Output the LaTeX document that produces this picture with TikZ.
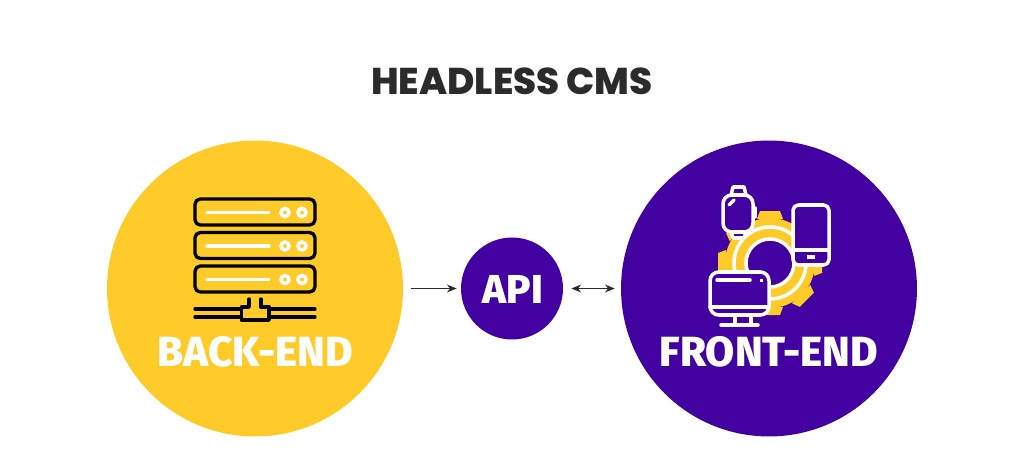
\documentclass[tikz,border=0pt]{standalone}
\usepackage{fontspec}
\setmainfont[BoldFont={Fira Sans ExtraBold}]{Fira Sans}
\newfontfamily\titlefont[BoldFont={Poppins ExtraBold}]{Poppins}
\usetikzlibrary{arrows.meta}
\definecolor{sunyellow}{HTML}{FFCB29}
\definecolor{deeppurple}{HTML}{41009F}
\definecolor{inkgray}{HTML}{2B2B2B}
\tikzset{
    bigdisc/.style={circle,minimum size=5.92cm,inner sep=0pt},
    apidisc/.style={circle,minimum size=2.04cm,inner sep=0pt,fill=deeppurple},
    disclabel/.style={text=white,font=\bfseries\fontsize{24}{24}\selectfont},
    linkarrow/.style={draw=inkgray,line width=0.55pt,>={Stealth[length=5.5pt,width=4.5pt]}},
    blackline/.style={draw=black,line width=1.9pt,line cap=round,line join=round},
    whiteline/.style={draw=white,line width=2pt,line cap=round,line join=round},
}
\begin{document}
\begin{tikzpicture}[x=0.02cm,y=-0.02cm]
            \useasboundingbox (0,0) rectangle (1024,466);

            % title
            \node (title) at (512,81) {\titlefont\bfseries\fontsize{21.2}{22}\selectfont\color{inkgray}HEADLESS CMS};

            % three discs
            \node[bigdisc,fill=sunyellow] (backend) at (255,288.5) {};
            \node[apidisc] (api) at (512,288.5) {};
            \node[bigdisc,fill=deeppurple] (frontend) at (769,288.5) {};

            % labels
            \node[disclabel] (backlabel) at (255,352) {BACK-END};
            \node[disclabel] (frontlabel) at (769,352) {FRONT-END};
            \node[disclabel,font=\bfseries\fontsize{23}{23}\selectfont] (apilabel) at (513,289) {API};

            % arrows between discs
            \draw[linkarrow,->,shorten <=4.6pt,shorten >=2.3pt] (backend) -- (api);
            \draw[linkarrow,<->,shorten <=4.6pt,shorten >=3.4pt] (api) -- (frontend);

            % server racks
            \foreach \y in {199,232.5,266} {
                \draw[blackline,rounded corners=3pt] (195,\y) rectangle (315,\y+26);
                \draw[draw=white,line width=2pt,line cap=round] (207,\y+13.5) -- (269,\y+13.5);
                \draw[draw=white,line width=2pt,fill=sunyellow] (285,\y+13.5) circle (4);
                \draw[draw=white,line width=2pt,fill=sunyellow] (302,\y+13.5) circle (4);
            }

            % network under the racks
            \draw[blackline] (195,309) -- (315,309);
            \draw[blackline] (195,317) -- (315,317);
            \draw[blackline,fill=sunyellow] (249,299) -- (249,307) -- (241.5,307) -- (241.5,320) -- (269,320) -- (269,307) -- (261,307) -- (261,299);

            % gear
            \coordinate (G) at (770,263);
            \fill[sunyellow] (G) circle (45);
            \foreach \a in {0,45,...,315} {
                \fill[sunyellow,rotate around={\a:(G)}] (757,263-44) -- (760,263-52) -- (780,263-52) -- (783,263-44) -- cycle;
            }
            \draw[draw=white,line width=2pt] (G) circle (36);
            \draw[draw=white,line width=2pt,fill=deeppurple] (G) circle (24);

            % watch
            \draw[whiteline,fill=deeppurple] (731,195) -- (733,187) -- (744,187) -- (746,195);
            \draw[whiteline,fill=deeppurple] (731,232) -- (733,238) -- (744,238) -- (746,232);
            \draw[whiteline,fill=deeppurple,rounded corners=5pt] (723,195) rectangle (753,232);
            \draw[whiteline] (755,208) -- (755,217);
            \draw[whiteline] (729,205) -- (734,200);

            % phone
            \draw[whiteline,fill=deeppurple,rounded corners=3pt] (793,205) rectangle (829,265);
            \draw[whiteline] (793,250) -- (829,250);
            \fill[white] (807,254.5) rectangle (815,259);

            % monitor
            \draw[whiteline] (735,315) -- (735,325);
            \draw[whiteline] (751,315) -- (751,325);
            \draw[whiteline] (721,325) -- (758,325);
            \draw[whiteline,fill=deeppurple,rounded corners=5pt] (710,272) rectangle (769,315);
            \draw[whiteline] (710,307) -- (769,307);
            \draw[whiteline] (717,280) -- (750,280);
            \fill[white] (760,279) rectangle (763,282);
\end{tikzpicture}
\end{document}
